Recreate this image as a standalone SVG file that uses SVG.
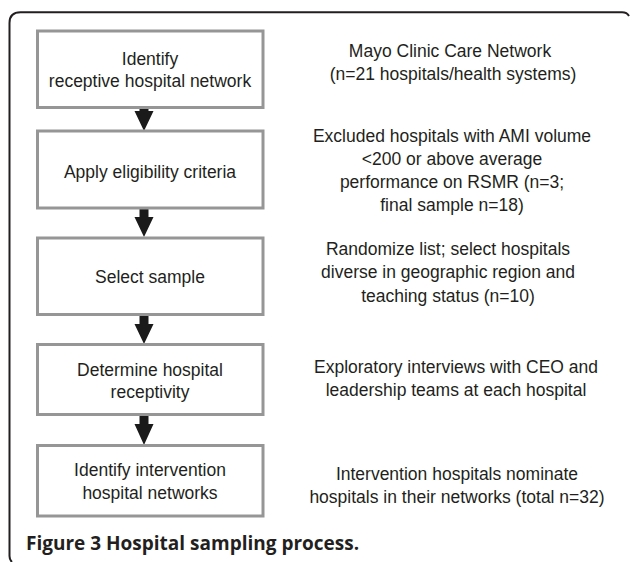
<svg xmlns="http://www.w3.org/2000/svg" width="630" height="562" viewBox="0 0 630 562">
<style>
.box{fill:#fff;stroke:#969696;stroke-width:3}
.t{font-family:"Liberation Sans",Arial,sans-serif;font-size:17.5px;fill:#231f20;text-anchor:middle}
.cap{font-family:"Open Sans","Liberation Sans",sans-serif;font-size:19px;font-weight:bold;fill:#231f20}
.arr{fill:#1a1a1a}
</style>
<rect x="0" y="0" width="630" height="562" fill="#fff"/>
<path d="M12 562 Q9.5 560 9.5 556 L9.5 23 Q9.5 12.3 20.5 12.3 L622 12.3 Q627 12.3 629 16" fill="none" stroke="#231f20" stroke-width="2"/>
<g id="connectors">
<polygon class="arr" points="139.5,107 148.5,107 148.5,111 153.5,111 144,131 134.5,111 139.5,111"/>
<polygon class="arr" points="139.5,208 148.5,208 148.5,217 153.5,217 144,237 134.5,217 139.5,217"/>
<polygon class="arr" points="139.5,315 148.5,315 148.5,324 153.5,324 144,344 134.5,324 139.5,324"/>
<polygon class="arr" points="139.5,415 148.5,415 148.5,424 153.5,424 144,445 134.5,424 139.5,424"/>
</g>
<g id="n1">
<rect class="box" x="37.5" y="31" width="225.5" height="76.5"/>
<text class="t" x="150" y="65">Identify</text>
<text class="t" x="150" y="87">receptive hospital network</text>
</g>
<g id="n2">
<rect class="box" x="37.5" y="131" width="225.5" height="77"/>
<text class="t" x="150" y="178">Apply eligibility criteria</text>
</g>
<g id="n3">
<rect class="box" x="37.5" y="238" width="225.5" height="76.5"/>
<text class="t" x="150" y="283">Select sample</text>
</g>
<g id="n4">
<rect class="box" x="37.5" y="344.5" width="225.5" height="70"/>
<text class="t" x="150" y="376">Determine hospital</text>
<text class="t" x="150" y="398">receptivity</text>
</g>
<g id="n5">
<rect class="box" x="37.5" y="445.5" width="225.5" height="70.5"/>
<text class="t" x="150" y="476">Identify intervention</text>
<text class="t" x="150" y="499">hospital networks</text>
</g>
<g id="notes">
<text class="t" x="450" y="57">Mayo Clinic Care Network</text>
<text class="t" x="453" y="80">(n=21 hospitals/health systems)</text>
<text class="t" x="452" y="142">Excluded hospitals with AMI volume</text>
<text class="t" x="452" y="165">&lt;200 or above average</text>
<text class="t" x="452" y="188">performance on RSMR (n=3;</text>
<text class="t" x="452" y="211">final sample n=18)</text>
<text class="t" x="448" y="255">Randomize list; select hospitals</text>
<text class="t" x="448" y="278">diverse in geographic region and</text>
<text class="t" x="448" y="302">teaching status (n=10)</text>
<text class="t" x="456" y="373">Exploratory interviews with CEO and</text>
<text class="t" x="456" y="396">leadership teams at each hospital</text>
<text class="t" x="457" y="480">Intervention hospitals nominate</text>
<text class="t" x="457" y="503">hospitals in their networks (total n=32)</text>
</g>
<text class="cap" x="26" y="550">Figure 3 Hospital sampling process.</text>
</svg>
